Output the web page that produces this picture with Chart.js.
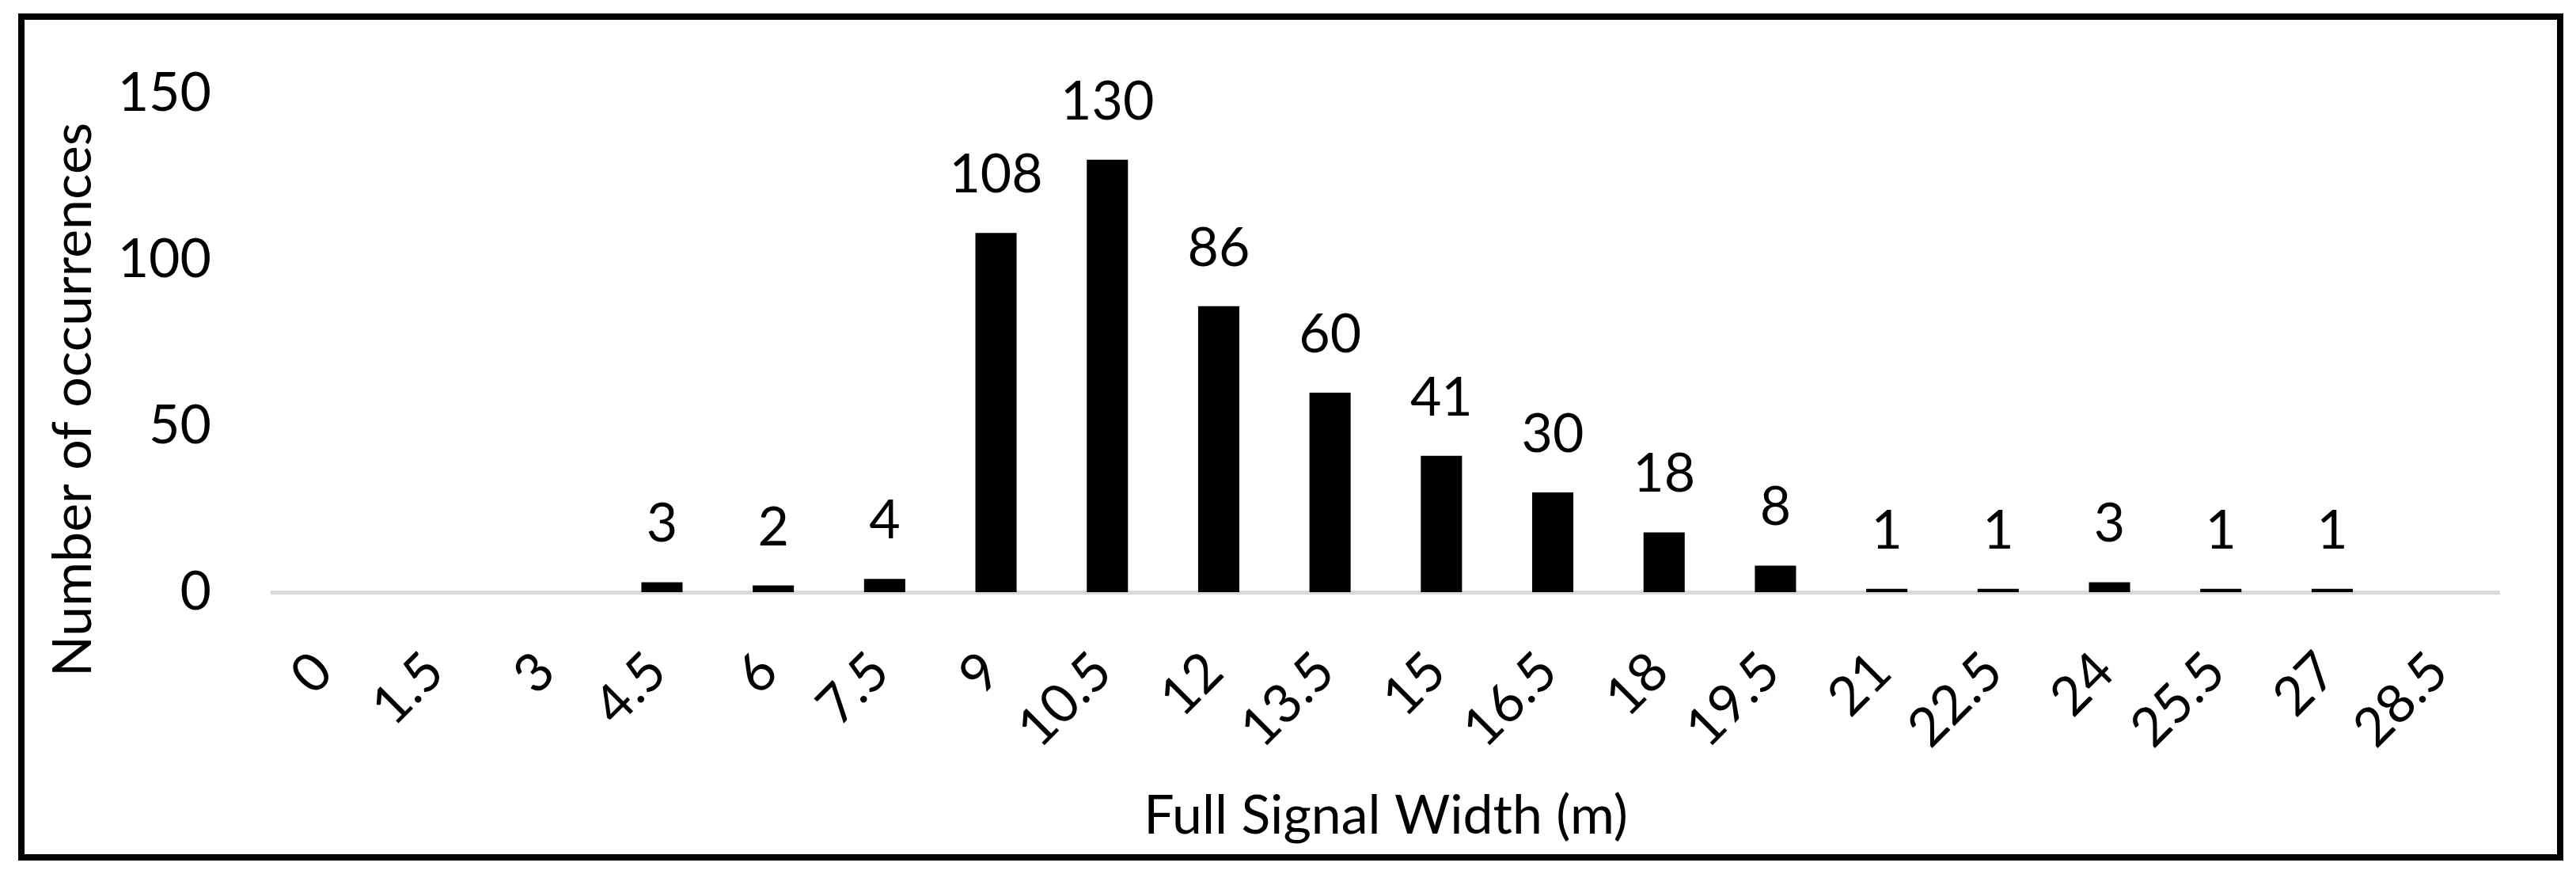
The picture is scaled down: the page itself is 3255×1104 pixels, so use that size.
<!DOCTYPE html>
<html>
<head>
<meta charset="utf-8">
<script src="https://cdn.jsdelivr.net/npm/chart.js@4/dist/chart.umd.min.js"></script>
<style>
  html, body { margin: 0; padding: 0; background: #ffffff; }
  canvas { display: block; }
</style>
</head>
<body>
<canvas id="c" width="3255" height="1104"></canvas>
<script>
// ---- data ----
const categories = ['0', '1.5', '3', '4.5', '6', '7.5', '9', '10.5', '12', '13.5', '15', '16.5', '18', '19.5', '21', '22.5', '24', '25.5', '27', '28.5'];
const counts = [0, 0, 0, 3, 2, 4, 108, 130, 86, 60, 41, 30, 18, 8, 1, 1, 3, 1, 1, 0];
const yTicks = [0, 50, 100, 150];
const xTitle = 'Full Signal Width (m)';
const yTitle = 'Number of occurrences';

const FONT = 'Lato, "Open Sans", sans-serif';
const FS = 68;

const framePlugin = {
  id: 'frame',
  afterDraw(chart) {
    const ctx = chart.ctx;
    ctx.save();
    ctx.strokeStyle = '#000000';
    ctx.lineWidth = 8;
    ctx.strokeRect(27, 21, 3208, 1062);
    ctx.restore();
  }
};

const yTitlePlugin = {
  id: 'yTitleDraw',
  afterDraw(chart) {
    const ctx = chart.ctx;
    const ys = chart.scales.y;
    ctx.save();
    ctx.fillStyle = '#000000';
    ctx.font = FS + 'px ' + FONT;
    ctx.textAlign = 'center';
    ctx.textBaseline = 'alphabetic';
    ctx.translate(115, (ys.top + ys.bottom) / 2 + 72);
    ctx.rotate(-Math.PI / 2);
    ctx.fillText(ys.options.title.text, 0, 0);
    ctx.restore();
  }
};

const valueLabels = {
  id: 'valueLabels',
  afterDatasetsDraw(chart) {
    const ctx = chart.ctx;
    const meta = chart.getDatasetMeta(0);
    const data = chart.data.datasets[0].data;
    ctx.save();
    ctx.fillStyle = '#000000';
    ctx.font = FS + 'px ' + FONT;
    ctx.textAlign = 'center';
    ctx.textBaseline = 'alphabetic';
    meta.data.forEach((bar, i) => {
      if (!data[i]) return;
      ctx.fillText(String(data[i]), bar.x, bar.y - 51);
    });
    ctx.restore();
  }
};

function draw() {
  new Chart(document.getElementById('c'), {
    type: 'bar',
    data: {
      labels: categories,
      datasets: [{
        data: counts,
        backgroundColor: '#000000',
        borderWidth: 0,
        categoryPercentage: 1.0,
        barPercentage: 0.37
      }]
    },
    options: {
      responsive: false,
      animation: false,
      devicePixelRatio: 1,
      layout: { padding: { left: 40, right: 97, top: 91, bottom: 30 } },
      plugins: {
        legend: { display: false },
        tooltip: { enabled: false },
        title: { display: false }
      },
      scales: {
        x: {
          z: 1,
          grid: { display: false, drawTicks: false },
          border: { display: true, color: '#d9d9d9', width: 5 },
          ticks: {
            autoSkip: false,
            maxRotation: 45,
            minRotation: 45,
            padding: 60,
            labelOffset: -6,
            color: '#000000',
            font: { family: FONT, size: FS }
          },
          title: {
            display: true,
            text: xTitle,
            color: '#000000',
            font: { family: FONT, size: FS },
            padding: { top: 0, bottom: 2 }
          },
          afterFit(scale) { scale.height = 1104 - 30 - 748; }
        },
        y: {
          min: yTicks[0],
          max: yTicks[yTicks.length - 1],
          afterBuildTicks(scale) { scale.ticks = yTicks.map(v => ({ value: v })); },
          grid: { display: false, drawTicks: false },
          border: { display: false },
          ticks: {
            padding: 77,
            color: '#000000',
            font: { family: FONT, size: FS }
          },
          title: { display: false, text: yTitle },
          afterFit(scale) { scale.width = 344 - 40; }
        }
      }
    },
    plugins: [valueLabels, yTitlePlugin, framePlugin]
  });
}

if (document.fonts && document.fonts.load) {
  document.fonts.load(FS + 'px Lato').then(draw, draw);
} else {
  draw();
}
</script>
</body>
</html>
